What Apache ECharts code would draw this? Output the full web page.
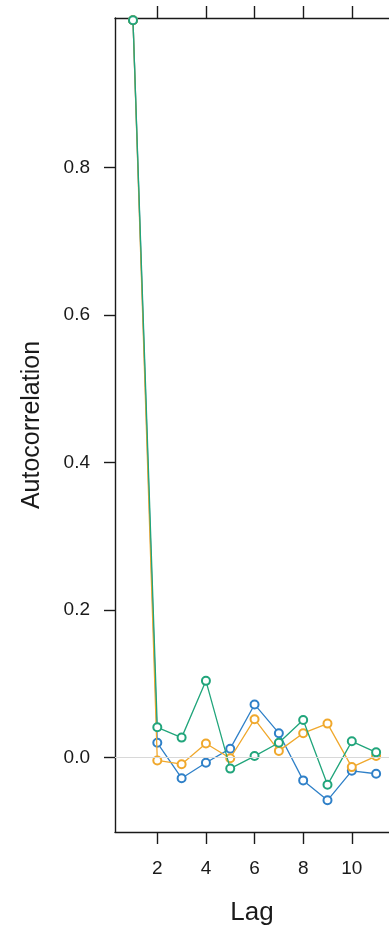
<!DOCTYPE html>
<html>
<head>
<meta charset="utf-8">
<style>
  html, body { margin: 0; padding: 0; background: #ffffff; }
  #chart { width: 389px; height: 926px; }
</style>
<script src="https://cdn.jsdelivr.net/npm/echarts@6/dist/echarts.min.js"></script>
</head>
<body>
<div id="chart"></div>
<script>
// Autocorrelation by lag for three chains
const lags = [1, 2, 3, 4, 5, 6, 7, 8, 9, 10, 11];
const chainBlue   = [1.0, 0.020, -0.028, -0.007, 0.012, 0.072, 0.033, -0.031, -0.058, -0.018, -0.022];
const chainOrange = [1.0, -0.004, -0.009, 0.019, -0.001, 0.052, 0.009, 0.033, 0.046, -0.013, 0.002];
const chainGreen  = [1.0, 0.041, 0.027, 0.104, -0.015, 0.002, 0.020, 0.051, -0.037, 0.022, 0.007];
const xTicks = [2, 4, 6, 8, 10];
const yTicks = [0, 0.2, 0.4, 0.6, 0.8];

const colors = { blue: '#2f80c8', orange: '#f0a82c', green: '#21a57b' };
const ink = '#1a1a1a';
const font = 'Liberation Sans, Arial, sans-serif';

function pairs(vals) { return lags.map((l, i) => [l, vals[i]]); }

function chainSeries(name, vals, color, z) {
  return {
    name, type: 'line', data: pairs(vals), z,
    symbol: 'emptyCircle', symbolSize: 8,
    lineStyle: { color, width: 1.3 },
    itemStyle: { color, borderColor: color, borderWidth: 1.2 },
    emphasis: { disabled: true },
    clip: true
  };
}

const chart = echarts.init(document.getElementById('chart'));
chart.setOption({
  animation: false,
  backgroundColor: '#ffffff',
  grid: { left: 115, top: 18, right: 0, bottom: 94, containLabel: false, outerBoundsMode: 'none' },
  xAxis: [
    {
      type: 'value', position: 'bottom', min: 0.26, max: 11.53,
      name: 'Lag', nameLocation: 'middle', nameGap: 68,
      nameTextStyle: { fontFamily: font, fontSize: 26, color: ink },
      axisLine: { show: true, onZero: false, lineStyle: { color: ink, width: 1.4 } },
      axisTick: { show: true, inside: false, length: 12, customValues: xTicks, lineStyle: { color: ink, width: 1.4 } },
      axisLabel: { customValues: xTicks, margin: 27, fontFamily: font, fontSize: 19, color: ink },
      splitLine: { show: false }
    },
    {
      type: 'value', position: 'top', min: 0.26, max: 11.53,
      axisLine: { show: true, onZero: false, lineStyle: { color: ink, width: 1.4 } },
      axisTick: { show: true, inside: false, length: 12, customValues: xTicks, lineStyle: { color: ink, width: 1.4 } },
      axisLabel: { show: false },
      splitLine: { show: false }
    }
  ],
  yAxis: {
    type: 'value', min: -0.101, max: 1.003,
    name: 'Autocorrelation', nameLocation: 'middle', nameGap: 70, nameRotate: 90,
    nameTextStyle: { fontFamily: font, fontSize: 25, color: ink },
    axisLine: { show: true, onZero: false, lineStyle: { color: ink, width: 1.4 } },
    axisTick: { show: true, inside: false, length: 11, customValues: yTicks, lineStyle: { color: ink, width: 1.4 } },
    axisLabel: { customValues: yTicks, margin: 25, fontFamily: font, fontSize: 19, color: ink,
                 formatter: v => v.toFixed(1) },
    splitLine: { show: false }
  },
  series: [
    {
      type: 'line', data: [], z: 1,
      markLine: {
        silent: true, symbol: 'none', label: { show: false },
        lineStyle: { color: '#d8d8d8', width: 1.2, type: 'solid' },
        data: [{ yAxis: 0 }]
      }
    },
    chainSeries('chain 1', chainBlue, colors.blue, 2),
    chainSeries('chain 2', chainOrange, colors.orange, 3),
    chainSeries('chain 3', chainGreen, colors.green, 4)
  ]
});
</script>
</body>
</html>
